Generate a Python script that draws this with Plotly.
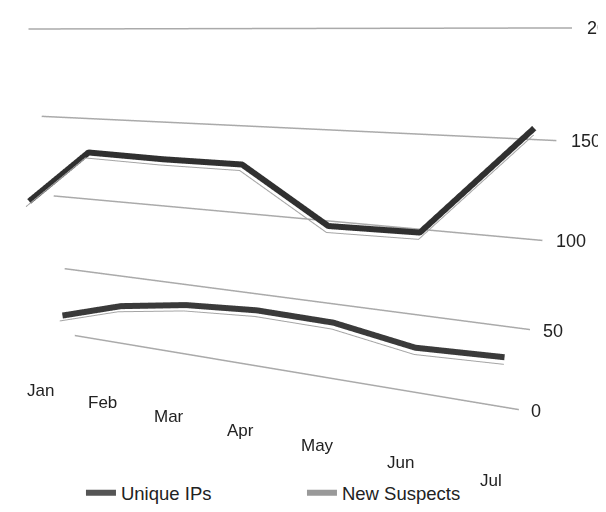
import plotly.graph_objects as go

# ---- data ----
months = ["Jan", "Feb", "Mar", "Apr", "May", "Jun", "Jul"]
unique_ips = [106, 137, 136, 136, 108, 109, 160]
new_suspects = [27, 40, 47, 50, 49, 41, 43]
grid_values = [0, 50, 100, 150, 200]
tick_labels = ["0", "50", "100", "150", "200"]

# ---- 3D layout constants (depths in scene units, back wall at y=0) ----
GRID_PAD = 0.2588
DEPTH_UNIQUE = -0.1078
DEPTH_NEW = -0.0691
DEPTH_LABELS = -0.1603
LABEL_Z = -11.5

xs = list(range(len(months)))
x_left, x_right = -GRID_PAD, len(months) - 1 + GRID_PAD

fig = go.Figure()

# back-wall gridlines
for v in grid_values:
    fig.add_trace(go.Scatter3d(x=[x_left, x_right], y=[0, 0], z=[v, v], mode="lines",
                               line=dict(color="#aaaaaa", width=3),
                               showlegend=False, hoverinfo="skip"))

# ribbons (dark band with a light lower edge)
for vals, depth, col in ((new_suspects, DEPTH_NEW, "#3a3a3a"),
                         (unique_ips, DEPTH_UNIQUE, "#303030")):
    fig.add_trace(go.Scatter3d(x=xs, y=[depth] * len(xs), z=vals, mode="lines",
                               line=dict(color=col, width=12),
                               showlegend=False, hoverinfo="skip"))
    fig.add_trace(go.Scatter3d(x=xs, y=[depth - 0.01] * len(xs), z=[v - 2.4 for v in vals],
                               mode="lines", line=dict(color="#a5a5a5", width=2),
                               showlegend=False, hoverinfo="skip"))

# legend entries
fig.add_trace(go.Scatter3d(x=[None], y=[None], z=[None], mode="lines", name="Unique IPs",
                           line=dict(color="#555555", width=6)))
fig.add_trace(go.Scatter3d(x=[None], y=[None], z=[None], mode="lines", name="New Suspects",
                           line=dict(color="#999999", width=6)))

# text labels as scene annotations
ann = [dict(x=x_right + 0.12, y=0, z=v, text=t, showarrow=False, xanchor="left",
            font=dict(family="Liberation Sans", size=18, color="#222"))
       for v, t in zip(grid_values, tick_labels)]
ann += [dict(x=i, y=DEPTH_LABELS, z=LABEL_Z, text=m, showarrow=False,
             font=dict(family="Liberation Sans", size=17, color="#222"))
        for i, m in enumerate(months)]

ax = dict(visible=False)
fig.update_layout(
    width=606, height=512,
    margin=dict(l=0, r=0, t=0, b=0),
    paper_bgcolor="white",
    scene=dict(
        domain=dict(x=[0, 1], y=[0.0019, 0.9982]),
        xaxis=dict(ax, range=[-1.5, 7.8]),
        yaxis=dict(ax, range=[-0.2103, 0.05]),
        zaxis=dict(ax, range=[-26.5, 215.0]),
        aspectmode="manual",
        aspectratio=dict(x=1.3286, y=0.2603, z=0.7604),
        annotations=ann,
        camera=dict(eye=dict(x=0.3775, y=-0.9152, z=0.3271),
                    center=dict(x=0.0585, y=0.0801, z=-0.0661),
                    up=dict(x=0, y=0, z=1), projection=dict(type="perspective")),
    ),
    legend=dict(orientation="h", x=0.4851, xanchor="center", y=0.015, yanchor="bottom",
                entrywidth=176, font=dict(family="Liberation Sans", size=18.5, color="#222")),
    showlegend=True,
)
fig.write_html("out.html")
